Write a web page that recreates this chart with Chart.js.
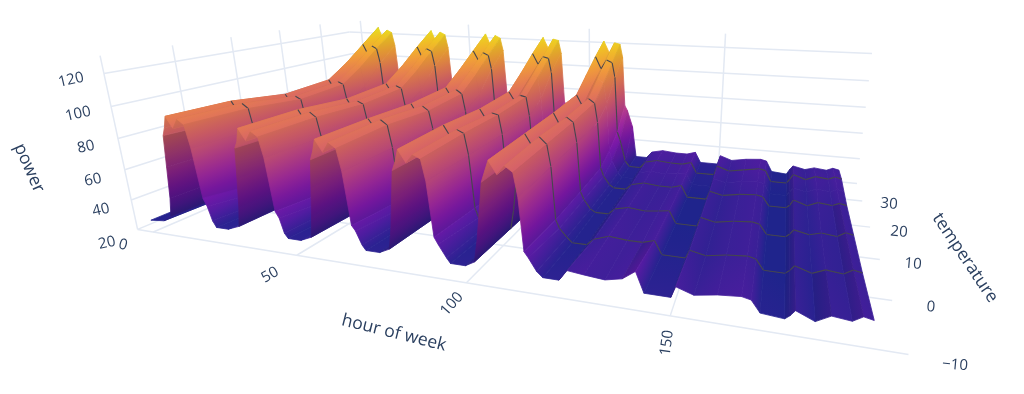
<!DOCTYPE html>
<html>
<head>
<meta charset="utf-8">
<title>power surface</title>
<script src="https://cdn.jsdelivr.net/npm/chart.js@4/dist/chart.umd.js"></script>
<style>
html, body { margin: 0; padding: 0; background: #fff; }
canvas { display: block; filter: blur(0.45px); }
</style>
</head>
<body>
<canvas id="myChart" width="1024" height="394"></canvas>
<script>
/*-----data-----*/
var hourOfWeek = [
    0, 5, 8, 9, 10, 11, 12, 13, 15, 17, 19, 20, 21, 22, 23,
    24, 28, 32, 33, 34, 35, 36, 37, 39, 41, 43, 44, 45, 46, 47,
    48, 52, 55.5, 56.5, 57.5, 58.5, 59.5, 60.5, 62.5, 64.5, 66.5, 67.5, 68.5, 69.5, 71,
    72, 76, 79, 80, 81, 82, 83, 84, 86, 88, 90, 91, 92, 93, 95,
    96, 100, 102.5, 103.5, 104.5, 105.5, 106.5, 107.5, 109.5, 111.5, 113.5, 114.5, 115.5, 116.5, 118.5,
    120, 124, 126, 130, 135, 139, 142, 144, 150, 151, 155, 160, 165, 167, 169, 174, 175, 176, 180, 183, 187, 189, 191
];
var temperatureRows = [-10, 0, 10, 20, 25, 30, 35];
var powerAtMinus10 = [
    28, 29, 33, 45, 65, 85, 90, 97, 90, 96, 93, 79, 48, 43, 34,
    30, 30, 33, 45, 63, 82, 86, 94, 87, 93, 90, 78, 46, 42, 33,
    30, 30, 33, 46, 63, 80, 85, 92, 85, 91, 88, 75, 44, 41, 33,
    30, 30, 33, 45, 62, 79, 84, 91, 84, 89, 87, 75, 44, 40, 33,
    30, 30, 33, 45, 61, 78, 84, 90, 83, 88, 85, 72, 43, 40, 33,
    30, 30, 36, 35, 34, 36, 41, 30, 30, 36, 33, 35, 36, 35, 29, 28, 30, 33, 29, 33, 32, 35, 34
];
var powerAt0 = [
    28, 28, 32, 44, 64, 83, 88, 96, 89, 95, 92, 78, 42, 37, 31,
    28, 28, 32, 44, 63, 81, 86, 94, 87, 93, 90, 77, 42, 37, 31,
    28, 28, 32, 45, 63, 80, 85, 92, 86, 92, 89, 75, 41, 37, 31,
    28, 28, 32, 44, 62, 79, 85, 92, 85, 90, 88, 75, 42, 36, 31,
    28, 28, 32, 44, 61, 78, 84, 91, 84, 90, 86, 73, 41, 36, 31,
    28, 28, 32, 35, 34, 34, 36, 28, 28, 33, 31, 33, 34, 33, 27, 27, 29, 32, 29, 32, 31, 34, 33
];
var powerAt10 = [
    27, 27, 31, 44, 61, 79, 83, 91, 84, 90, 88, 75, 41, 36, 30,
    27, 27, 31, 44, 61, 79, 83, 91, 84, 90, 88, 75, 41, 36, 30,
    27, 27, 31, 45, 61, 79, 83, 91, 84, 90, 87, 75, 41, 36, 30,
    27, 27, 31, 44, 61, 79, 84, 91, 84, 89, 88, 75, 41, 36, 30,
    27, 27, 31, 44, 62, 80, 84, 92, 84, 90, 87, 74, 41, 36, 30,
    28, 28, 32, 34, 33, 34, 35, 27, 27, 33, 31, 33, 34, 33, 27, 27, 29, 32, 30, 32, 31, 34, 33
];
var powerAt20 = [
    27, 27, 31, 44, 61, 80, 85, 93, 86, 92, 90, 76, 42, 36, 30,
    27, 27, 31, 44, 61, 80, 85, 93, 86, 92, 90, 76, 42, 36, 30,
    27, 27, 31, 45, 61, 80, 85, 93, 86, 92, 89, 76, 42, 36, 30,
    27, 27, 31, 44, 62, 80, 86, 93, 86, 91, 90, 76, 42, 36, 30,
    27, 27, 31, 44, 62, 81, 86, 94, 86, 92, 89, 75, 42, 36, 30,
    28, 28, 32, 34, 33, 33, 35, 27, 27, 33, 31, 33, 34, 33, 27, 27, 29, 33, 30, 33, 32, 34, 33
];
var powerAt25 = [
    27, 27, 31, 46, 66, 87, 94, 103, 96, 102, 100, 84, 48, 40, 31,
    27, 27, 31, 46, 66, 87, 94, 103, 96, 102, 100, 84, 48, 40, 31,
    27, 27, 31, 47, 66, 87, 94, 103, 96, 102, 99, 84, 48, 40, 31,
    27, 27, 31, 46, 67, 87, 95, 103, 96, 101, 100, 84, 48, 40, 31,
    27, 27, 31, 46, 67, 88, 95, 104, 96, 102, 99, 83, 48, 40, 31,
    28, 28, 33, 35, 34, 35, 36, 28, 28, 34, 32, 34, 35, 34, 27, 27, 30, 33, 31, 34, 33, 35, 34
];
var powerAt30 = [
    28, 28, 32, 48, 72, 96, 105, 115, 106, 114, 112, 100, 56, 50, 33,
    28, 28, 32, 48, 72, 96, 105, 115, 106, 114, 112, 100, 56, 50, 33,
    28, 28, 32, 49, 72, 96, 105, 114, 106, 113, 111, 100, 56, 50, 33,
    28, 28, 32, 48, 73, 96, 105, 114, 106, 112, 111, 100, 56, 50, 33,
    28, 28, 32, 48, 73, 97, 105, 114, 105, 112, 110, 99, 56, 50, 33,
    29, 29, 34, 36, 35, 35, 37, 29, 29, 36, 33, 35, 37, 36, 28, 28, 31, 35, 32, 35, 34, 36, 35
];
var powerAt35 = [
    29, 29, 33, 50, 78, 106, 116, 127, 116, 125, 123, 112, 72, 68, 55,
    29, 29, 33, 50, 78, 106, 116, 126, 116, 125, 123, 112, 72, 68, 55,
    29, 29, 33, 51, 78, 106, 115, 125, 115, 124, 122, 112, 72, 68, 55,
    29, 29, 33, 50, 78, 105, 115, 124, 115, 123, 122, 112, 72, 68, 55,
    29, 29, 33, 50, 78, 105, 114, 123, 114, 122, 121, 111, 72, 68, 55,
    30, 30, 35, 37, 36, 36, 38, 30, 30, 37, 34, 36, 37, 36, 28, 27, 31, 34, 32, 34, 33, 35, 34
];
var powerRows = [powerAtMinus10, powerAt0, powerAt10, powerAt20, powerAt25, powerAt30, powerAt35];

var contourTemps = [0, 10, 20, 30];
var hourTicks = [0, 50, 100, 150];
var temperatureTicks = [-10, 0, 10, 20, 30];
var powerTicks = [20, 40, 60, 80, 100, 120];

/*-----box limits and the camera, matched on the box corners-----*/
var hourMin = -6, hourMax = 198;
var tempMin = -10, tempMax = 38;
var powerMin = 20, powerMax = 130.6;
var cameraMatches = [
    [-6, -10, 20, 138, 228], [0, -10, 20, 153, 232], [50, -10, 20, 297, 255], [100, -10, 20, 467, 283],
    [150, -10, 20, 672, 318], [198, -10, 20, 908, 355], [198, 0, 20, 892, 300], [198, 10, 20, 878, 260],
    [198, 20, 20, 870, 227], [198, 30, 20, 862, 200], [198, 38, 20, 857, 184], [198, 38, 120, 872, 53],
    [-6, -10, 120, 105, 73], [-6, -10, 60, 123, 170], [-6, 38, 120, 350, 33], [50, 38, 120, 468, 37],
    [100, 38, 120, 588, 42], [150, 38, 120, 726, 47], [150, 38, 40, 721, 147]
];

function solve(A, b) {
    var n = b.length;
    for (var c = 0; c < n; c++) {
        var best = c;
        for (var r = c + 1; r < n; r++) {
            if (Math.abs(A[r][c]) > Math.abs(A[best][c])) best = r;
        }
        var tmp = A[c]; A[c] = A[best]; A[best] = tmp;
        var tb = b[c]; b[c] = b[best]; b[best] = tb;
        for (var r2 = c + 1; r2 < n; r2++) {
            var f = A[r2][c] / A[c][c];
            for (var k = c; k < n; k++) A[r2][k] -= f * A[c][k];
            b[r2] -= f * b[c];
        }
    }
    var x = [];
    for (var i = n - 1; i >= 0; i--) {
        var s = b[i];
        for (var j = i + 1; j < n; j++) s -= A[i][j] * x[j];
        x[i] = s / A[i][i];
    }
    return x;
}

// least squares for the 3x4 projection, everything scaled to about 1
var cam = (function() {
    var N = [], v = [];
    for (var i = 0; i < 11; i++) {
        N.push(new Array(11).fill(0));
        v.push(0);
    }
    cameraMatches.forEach(function(m) {
        var X = m[0] / 200, Y = m[1] / 50, Z = m[2] / 100, u = m[3] / 1000, w = m[4] / 1000;
        var rows = [
            [[X, Y, Z, 1, 0, 0, 0, 0, -u * X, -u * Y, -u * Z], u],
            [[0, 0, 0, 0, X, Y, Z, 1, -w * X, -w * Y, -w * Z], w]
        ];
        rows.forEach(function(r) {
            for (var a = 0; a < 11; a++) {
                v[a] += r[0][a] * r[1];
                for (var b = 0; b < 11; b++) N[a][b] += r[0][a] * r[0][b];
            }
        });
    });
    return solve(N, v);
})();

function project(hour, temp, power) {
    var X = hour / 200, Y = temp / 50, Z = power / 100;
    var d = cam[8] * X + cam[9] * Y + cam[10] * Z + 1;
    return {
        x: 1000 * (cam[0] * X + cam[1] * Y + cam[2] * Z + cam[3]) / d,
        y: 1000 * (cam[4] * X + cam[5] * Y + cam[6] * Z + cam[7]) / d
    };
}

// hour the camera stands over, so columns can be painted far to near
var cameraHour = 200 * solve([
    [cam[0], cam[1], cam[2]],
    [cam[4], cam[5], cam[6]],
    [cam[8], cam[9], cam[10]]
], [-cam[3], -cam[7], -1])[0];

/*-----colours-----*/
var plasma = [
    [13, 8, 135], [70, 3, 159], [114, 1, 168], [156, 23, 158], [189, 55, 134],
    [216, 87, 107], [237, 121, 83], [251, 159, 58], [253, 202, 38], [240, 249, 33]
];
var colorMin = 27, colorMax = 130;

function surfaceColor(power, shade) {
    var v = Math.min(1, Math.max(0, (power - colorMin) / (colorMax - colorMin))) * 9;
    var i = Math.min(8, Math.floor(v)), f = v - i;
    var lift = 1 - v / 9;
    var r = plasma[i][0] + (plasma[i + 1][0] - plasma[i][0]) * f + 20 * lift;
    var g = plasma[i][1] + (plasma[i + 1][1] - plasma[i][1]) * f + 30 * lift;
    var b = plasma[i][2] + (plasma[i + 1][2] - plasma[i][2]) * f + 14 * lift;
    return 'rgb(' + Math.round(r * shade) + ',' + Math.round(g * shade) + ',' + Math.round(b * shade) + ')';
}

/*-----build the datasets in painting order-----*/
var ctx = document.getElementById('myChart').getContext('2d');
var paintList = [];

function lineSet(points, color, width) {
    return {
        data: points,
        showLine: true,
        fill: false,
        borderColor: color,
        borderWidth: width,
        borderDash: [9999],
        pointRadius: 0
    };
}

function gridLine(a, b) {
    return lineSet([project(a[0], a[1], a[2]), project(b[0], b[1], b[2])], '#e3e9f3', 1.5);
}

hourTicks.forEach(function(h) {
    paintList.push(gridLine([h, tempMin, powerMin], [h, tempMax, powerMin]));
    paintList.push(gridLine([h, tempMax, powerMin], [h, tempMax, powerMax]));
});
temperatureTicks.forEach(function(t) {
    paintList.push(gridLine([hourMin, t, powerMin], [hourMax, t, powerMin]));
    paintList.push(gridLine([hourMin, t, powerMin], [hourMin, t, powerMax]));
});
powerTicks.forEach(function(p) {
    paintList.push(gridLine([hourMin, tempMin, p], [hourMin, tempMax, p]));
    paintList.push(gridLine([hourMin, tempMax, p], [hourMax, tempMax, p]));
});

function quadFill(pts, pw, hourStep) {
    var e1 = { x: (pts[1].x - pts[0].x + pts[2].x - pts[3].x) / 2, y: (pts[1].y - pts[0].y + pts[2].y - pts[3].y) / 2 };
    var e2 = { x: (pts[3].x - pts[0].x + pts[2].x - pts[1].x) / 2, y: (pts[3].y - pts[0].y + pts[2].y - pts[1].y) / 2 };
    var d1 = (pw[1] - pw[0] + pw[2] - pw[3]) / 2;
    var d2 = (pw[3] - pw[0] + pw[2] - pw[1]) / 2;
    var lo = Math.min.apply(null, pw), hi = Math.max.apply(null, pw);
    var mid = (pw[0] + pw[1] + pw[2] + pw[3]) / 4;
    // rising faces turn their underside to the camera, so they come out darker
    var slope = d1 / hourStep;
    var shade = 0.94;
    if (Math.abs(d1) > 10) {
        shade = slope > 0 ? 0.72 : 0.88;
    } else if (slope > 1) {
        shade = 0.86;
    }
    var det = e1.x * e2.y - e1.y * e2.x;
    if (Math.abs(det) < 0.5 || hi - lo < 0.5) return surfaceColor(mid, shade);
    var gx = (d1 * e2.y - d2 * e1.y) / det;
    var gy = (e1.x * d2 - e2.x * d1) / det;
    var g2 = gx * gx + gy * gy;
    if (g2 < 1e-6) return surfaceColor(mid, shade);
    var cx = (pts[0].x + pts[1].x + pts[2].x + pts[3].x) / 4;
    var cy = (pts[0].y + pts[1].y + pts[2].y + pts[3].y) / 4;
    var grad = ctx.createLinearGradient(
        cx + gx / g2 * (lo - mid), cy + gy / g2 * (lo - mid),
        cx + gx / g2 * (hi - mid), cy + gy / g2 * (hi - mid)
    );
    var steps = Math.ceil((hi - lo) / 6) + 1;
    for (var s = 0; s <= steps; s++) {
        grad.addColorStop(s / steps, surfaceColor(lo + (hi - lo) * s / steps, shade));
    }
    return grad;
}

var columns = [];
for (var i = 0; i < hourOfWeek.length - 1; i++) columns.push(i);
columns.sort(function(a, b) {
    var da = Math.abs((hourOfWeek[a] + hourOfWeek[a + 1]) / 2 - cameraHour);
    var db = Math.abs((hourOfWeek[b] + hourOfWeek[b + 1]) / 2 - cameraHour);
    return db - da;
});

columns.forEach(function(i) {
    var h0 = hourOfWeek[i], h1 = hourOfWeek[i + 1];
    for (var j = temperatureRows.length - 2; j >= 0; j--) {
        var t0 = temperatureRows[j], t1 = temperatureRows[j + 1];
        var pw = [powerRows[j][i], powerRows[j][i + 1], powerRows[j + 1][i + 1], powerRows[j + 1][i]];
        var pts = [project(h0, t0, pw[0]), project(h1, t0, pw[1]), project(h1, t1, pw[2]), project(h0, t1, pw[3])];
        var color = quadFill(pts, pw, h1 - h0);
        paintList.push({
            data: [pts[0], pts[1], pts[2], pts[3], pts[0]],
            showLine: true,
            fill: 'shape',
            backgroundColor: color,
            borderColor: color,
            borderWidth: 0.8,
            borderDash: [9999],
            pointRadius: 0
        });
    }
    contourTemps.forEach(function(t) {
        var row = powerRows[temperatureRows.indexOf(t)];
        paintList.push(lineSet([project(h0, t, row[i]), project(h1, t, row[i + 1])], '#46464e', 1.1));
    });
});

/*-----text-----*/
var tickFont = '15px "Open Sans"';
var titleFont = '17.5px "Open Sans"';
var chartTexts = [
    ['120', 71, 80, -13, tickFont], ['100', 78, 114, -13, tickFont], ['80', 86, 147, -13, tickFont],
    ['60', 93, 180, -13, tickFont], ['40', 101, 210, -13, tickFont], ['20', 107, 243, -13, tickFont],
    ['0', 123, 245, 15, tickFont], ['50', 270, 275, -30, tickFont], ['100', 452, 304, -48, tickFont],
    ['150', 667, 343, -82, tickFont],
    ['\u221210', 955, 365, 5, tickFont], ['0', 931, 307, 5, tickFont], ['10', 913, 264, 5, tickFont],
    ['20', 899, 232, 5, tickFont], ['30', 889, 204, 5, tickFont],
    ['power', 29, 168, 66, titleFont], ['hour of week', 394, 333, 14, titleFont], ['temperature', 965, 258, 56, titleFont]
];

var textPlugin = {
    id: 'axisText',
    afterDraw: function(chart) {
        var c = chart.ctx;
        chartTexts.forEach(function(t) {
            c.save();
            c.translate(t[1], t[2]);
            c.rotate(t[3] * Math.PI / 180);
            c.font = t[4];
            c.fillStyle = '#2a3f5f';
            c.textAlign = 'center';
            c.textBaseline = 'middle';
            c.fillText(t[0], 0, 0);
            c.restore();
        });
    }
};

/*-----chart-----*/
// dataset 0 is drawn last in Chart.js, so the list goes in reversed
var myChart = new Chart(ctx, {
    type: 'scatter',
    data: { datasets: paintList.slice().reverse() },
    options: {
        responsive: false,
        animation: false,
        devicePixelRatio: 1,
        events: [],
        parsing: false,
        layout: { padding: 0 },
        plugins: { legend: { display: false }, tooltip: { enabled: false } },
        scales: {
            x: { type: 'linear', display: false, min: 0, max: 1024 },
            y: { type: 'linear', display: false, min: 0, max: 394, reverse: true }
        }
    },
    plugins: [textPlugin]
});
</script>
</body>
</html>
